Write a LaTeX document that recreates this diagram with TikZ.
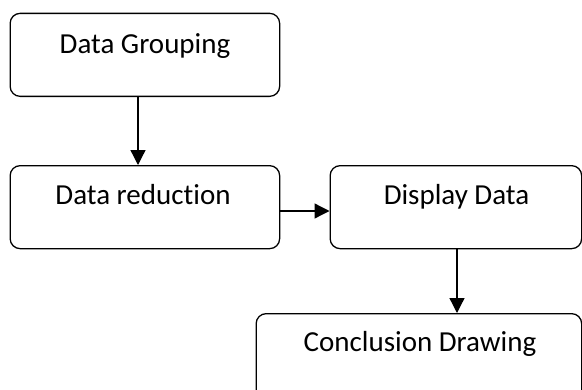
\documentclass[tikz,border=0pt]{standalone}
\usepackage{fontspec}
\setmainfont{Carlito}[Ligatures=NoCommon]
\usetikzlibrary{arrows.meta}
\begin{document}
\begin{tikzpicture}[x=1pt,y=-1pt,
  box/.style={draw=black,line width=1.3pt,rounded corners=10pt,inner sep=0pt,anchor=north west},
  lbl/.style={font=\fontsize{29}{34}\selectfont,inner sep=0pt,anchor=base},
  arr/.style={line width=1.3pt,-{Triangle[length=15pt,width=15pt]}}]
\useasboundingbox (0,0) rectangle (582,389);
\clip (0,0) rectangle (582,389);
\node[box,minimum width=269.5pt,minimum height=83pt] (b1) at (9.5,12.7) {};
\node[box,minimum width=269.5pt,minimum height=83pt] (b2) at (9.5,165) {};
\node[box,minimum width=251.5pt,minimum height=83pt] (b3) at (329.5,165) {};
\node[box,minimum width=325.5pt,minimum height=90pt] (b4) at (255.5,313) {};
\node[lbl] (t1) at (145,53) {Data Grouping};
\node[lbl] (t2) at (143,204) {Data reduction};
\node[lbl] (t3) at (456.5,204) {Display Data};
\node[lbl] (t4) at (420,351.5) {Conclusion Drawing};
\draw[arr] (b1.south -| 138,0) -- (b2.north -| 138,0);
\draw[arr] (b2.east |- 0,211) -- (b3.west |- 0,211);
\draw[arr] (b3.south -| 457,0) -- (b4.north -| 457,0);
\end{tikzpicture}
\end{document}
